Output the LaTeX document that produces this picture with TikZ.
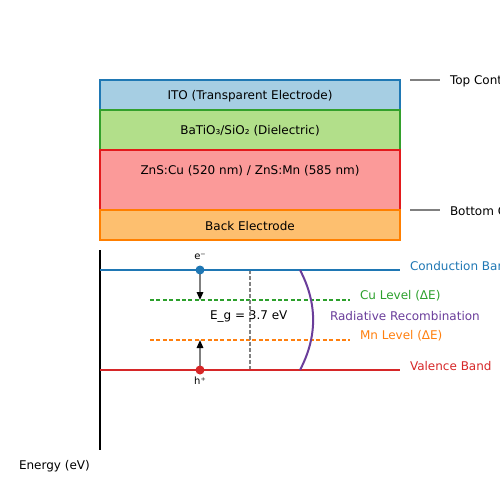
\documentclass[tikz,border=0pt]{standalone}
\usepackage{fontspec}
\setmainfont{DejaVu Sans}
\usetikzlibrary{arrows.meta}
\definecolor{itofill}{HTML}{A6CEE3}
\definecolor{itoedge}{HTML}{1F78B4}
\definecolor{dielfill}{HTML}{B2DF8A}
\definecolor{dieledge}{HTML}{33A02C}
\definecolor{znsfill}{HTML}{FB9A99}
\definecolor{znsedge}{HTML}{E31A1C}
\definecolor{backfill}{HTML}{FDBF6F}
\definecolor{backedge}{HTML}{FF7F00}
\definecolor{tabblue}{HTML}{1F77B4}
\definecolor{tabgreen}{HTML}{2CA02C}
\definecolor{taborange}{HTML}{FF7F0E}
\definecolor{tabred}{HTML}{D62728}
\definecolor{recpurple}{HTML}{6A3D9A}
\definecolor{midgray}{HTML}{808080}
\begin{document}
\begin{tikzpicture}[x=1pt,y=-1pt,
  font=\fontsize{12}{14}\selectfont,
  layer/.style={rectangle, line width=2pt, minimum width=300pt, inner sep=0pt, outer sep=0pt},
  txt/.style={inner sep=0pt, outer sep=0pt},
  lbl/.style={txt, anchor=west},
  band/.style={line width=2pt},
  level/.style={line width=1.5pt, dash pattern=on 4pt off 2.4pt},
  leader/.style={draw=midgray, line width=2pt},
  carrier/.style={midgray, line width=1.5pt, -{Triangle[black, length=8pt, width=6.5pt]}},
  dot/.style={circle, minimum size=9pt, inner sep=0pt}]
\useasboundingbox (0,0) rectangle (500,500);
% layer stack
\node[layer, fill=itofill, draw=itoedge, minimum height=30pt] (ito) at (250,95) {};
\node[layer, fill=dielfill, draw=dieledge, minimum height=40pt] (diel) at (250,130) {};
\node[layer, fill=znsfill, draw=znsedge, minimum height=60pt] (zns) at (250,180) {};
\node[layer, fill=backfill, draw=backedge, minimum height=30pt] (back) at (250,225) {};
\node[txt] (itot) at (250,96) {ITO (Transparent Electrode)};
\node[txt] (dielt) at (250,131) {BaTiO₃/SiO₂ (Dielectric)};
\node[txt] (znst) at (250,171) {ZnS:Cu (520 nm) / ZnS:Mn (585 nm)};
\node[txt] (backt) at (250,226) {Back Electrode};
% contacts
\coordinate (tc1) at (410,80);
\coordinate (tc2) at (440,80);
\coordinate (bc1) at (410,210);
\coordinate (bc2) at (440,210);
\draw[leader] (tc1) -- (tc2);
\draw[leader] (bc1) -- (bc2);
\node[lbl] (topt) at (450,81) {Top Contact};
\node[lbl] (bott) at (450,211) {Bottom Contact};
% energy diagram
\coordinate (ax1) at (100,250);
\coordinate (ax2) at (100,450);
\draw[line width=2pt, black] (ax1) -- (ax2);
\node[lbl] (energy) at (19,466) {Energy (eV)};
\coordinate (cb1) at (100,270);
\coordinate (cb2) at (400,270);
\coordinate (vb1) at (100,370);
\coordinate (vb2) at (400,370);
\coordinate (cu1) at (150,300);
\coordinate (cu2) at (350,300);
\coordinate (mn1) at (150,340);
\coordinate (mn2) at (350,340);
\draw[level, tabgreen] (cu1) -- (cu2);
\draw[level, taborange] (mn1) -- (mn2);
\coordinate (eg1) at (250,270);
\coordinate (eg2) at (250,370);
\draw[midgray, line width=1.5pt, dash pattern=on 4pt off 2pt] (eg1) -- (eg2);
\draw[band, tabblue] (cb1) -- (cb2);
\draw[band, tabred] (vb1) -- (vb2);
\node[lbl, text=tabblue] (cbt) at (410,266) {Conduction Band};
\node[lbl, text=tabred] (vbt) at (410,366) {Valence Band};
\node[lbl, text=tabgreen] (cut) at (360,296) {Cu Level (ΔE)};
\node[lbl, text=taborange] (mnt) at (360,336) {Mn Level (ΔE)};
\node[lbl] (egt) at (210,316) {E\_g = 3.7 eV};
% recombination arc
\coordinate (r1) at (300,270);
\coordinate (r2) at (300,370);
\draw[recpurple, line width=2pt] (r1) .. controls (317.5,303.3) and (317.5,336.7) .. (r2);
\node[lbl, text=recpurple] (rect) at (330,316) {Radiative Recombination};
% carriers
\coordinate (ec) at (200,270);
\coordinate (et) at (200,300);
\coordinate (hc) at (200,370);
\coordinate (ht) at (200,340);
\draw[carrier] (ec) -- (et);
\draw[carrier] (hc) -- (ht);
\node[dot, fill=tabblue] (e) at (ec) {};
\node[dot, fill=tabred] (h) at (hc) {};
\node[txt, font=\fontsize{10}{11}\selectfont] (elab) at (200,257) {e⁻};
\node[txt, font=\fontsize{10}{11}\selectfont] (hlab) at (200,381) {h⁺};
\end{tikzpicture}
\end{document}
